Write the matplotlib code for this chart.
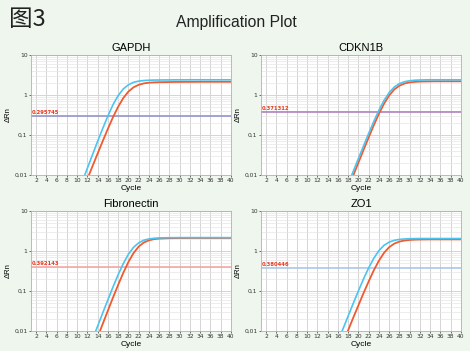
import numpy as np
import matplotlib.pyplot as plt
from matplotlib.ticker import FixedLocator, FixedFormatter, LogLocator, NullFormatter

# cycles 10..40 for all curves
cycles = list(range(10, 41))

gapdh_blue = [0.0031, 0.0068, 0.0149, 0.0323, 0.070, 0.147, 0.302, 0.575, 0.97, 1.42,
              1.80, 2.08, 2.22, 2.30, 2.34, 2.36, 2.37, 2.38, 2.38, 2.39, 2.39, 2.39,
              2.40, 2.40, 2.40, 2.40, 2.40, 2.40, 2.40, 2.40, 2.40]
gapdh_red = [0.0017, 0.0038, 0.0080, 0.0167, 0.0346, 0.071, 0.144, 0.281, 0.51, 0.84,
             1.22, 1.56, 1.80, 1.95, 2.03, 2.07, 2.09, 2.10, 2.11, 2.12, 2.12, 2.13,
             2.13, 2.13, 2.14, 2.14, 2.14, 2.14, 2.14, 2.14, 2.14]
cdkn_blue = [0.00001, 0.00003, 0.00006, 0.00013, 0.0003, 0.0006, 0.0013,
             0.0028, 0.0060, 0.0125, 0.0259, 0.0536, 0.110, 0.219, 0.418, 0.736, 1.155,
             1.586, 1.93, 2.15, 2.27, 2.34, 2.37, 2.39,
             2.40, 2.40, 2.40, 2.40, 2.40, 2.40, 2.40]
cdkn_red = [0.00001, 0.00002, 0.00005, 0.0001, 0.0002, 0.0005, 0.0010,
            0.0022, 0.0047, 0.0098, 0.0204, 0.0424, 0.087, 0.176, 0.340, 0.609, 0.978,
            1.38, 1.71, 1.94, 2.07, 2.13, 2.17, 2.18,
            2.19, 2.20, 2.20, 2.20, 2.20, 2.20, 2.20]
fibro_blue = [0.0006, 0.0013, 0.0029, 0.0062, 0.0133, 0.0285, 0.0606, 0.127, 0.256, 0.486,
              0.833, 1.24, 1.60, 1.86, 2.00, 2.08, 2.12, 2.14, 2.15, 2.15, 2.16, 2.16,
              2.16, 2.16, 2.16, 2.16, 2.16, 2.16, 2.16, 2.16, 2.16]
fibro_red = [0.0003, 0.0007, 0.0015, 0.0033, 0.0071, 0.0152, 0.0326, 0.069, 0.143, 0.285,
             0.533, 0.89, 1.29, 1.63, 1.85, 1.98, 2.04, 2.07, 2.09, 2.10, 2.11, 2.11,
             2.12, 2.12, 2.12, 2.12, 2.12, 2.12, 2.12, 2.12, 2.12]
zo1_blue = [0.0001, 0.0002, 0.0004, 0.0008, 0.0014, 0.0026, 0.0055, 0.0114, 0.0238, 0.0495,
            0.101, 0.201, 0.380, 0.661, 1.025, 1.39, 1.67, 1.85, 1.95, 2.00, 2.03,
            2.04, 2.05, 2.05, 2.05, 2.05, 2.05, 2.05, 2.05, 2.05, 2.05]
zo1_red = [0.00002, 0.00005, 0.0001, 0.0002, 0.0005, 0.0011,
           0.0025, 0.0051, 0.0105, 0.0217, 0.0439, 0.089, 0.174, 0.330, 0.575, 0.904,
           1.25, 1.53, 1.72, 1.83, 1.89, 1.92, 1.935, 1.943,
           1.95, 1.95, 1.95, 1.95, 1.95, 1.95, 1.95]

titles = ["GAPDH", "CDKN1B", "Fibronectin", "ZO1"]
thresholds = [0.295745, 0.371312, 0.392143, 0.380446]
thr_labels = ["0.295745", "0.371312", "0.392143", "0.380446"]
thr_colors = ["#8c8cc8", "#a878b8", "#f4a0a0", "#a8c4e8"]
blue_series = [gapdh_blue, cdkn_blue, fibro_blue, zo1_blue]
red_series = [gapdh_red, cdkn_red, fibro_red, zo1_red]

bg = "#eef6ee"
W, H = 470, 351
fig = plt.figure(figsize=(4.7, 3.51), dpi=100, facecolor=bg)

# axes boxes in pixels: left, top
boxes = [(31, 55), (261, 55), (31, 211), (261, 211)]
aw, ah = 200, 120

for i, (x0, y0) in enumerate(boxes):
    ax = fig.add_axes([x0 / W, 1 - (y0 + ah) / H, aw / W, ah / H])
    ax.set_facecolor("white")
    ax.set_yscale("log")
    ax.set_xlim(1, 40)
    ax.set_ylim(0.01, 10)

    ax.xaxis.set_major_locator(FixedLocator(range(2, 41, 2)))
    ax.xaxis.set_minor_locator(FixedLocator(range(1, 41)))
    ax.yaxis.set_major_locator(FixedLocator([0.01, 0.1, 1, 10]))
    ax.yaxis.set_major_formatter(FixedFormatter(["0,01", "0,1", "1", "10"]))
    ax.yaxis.set_minor_locator(LogLocator(base=10, subs=np.arange(2, 10)))
    ax.yaxis.set_minor_formatter(NullFormatter())

    ax.grid(which="major", color="#d4d4d4", linewidth=0.7)
    ax.grid(which="minor", axis="y", color="#e6e6e6", linewidth=0.5)
    ax.tick_params(axis="both", which="major", labelsize=4.3, length=1.5,
                   width=0.5, pad=1, colors="#333333")
    ax.tick_params(axis="both", which="minor", length=0)
    for s in ax.spines.values():
        s.set_color("#b0b0b0")
        s.set_linewidth(0.6)

    ax.axhline(thresholds[i], color=thr_colors[i], linewidth=1.1, zorder=2)
    ax.text(1.2, thresholds[i] * 1.06, thr_labels[i], color="#e83a20",
            fontsize=3.8, fontweight="bold", va="bottom", ha="left")

    ax.plot(cycles, red_series[i], color="#f05a30", linewidth=1.3, zorder=3)
    ax.plot(cycles, blue_series[i], color="#4cc4f0", linewidth=1.2, zorder=3)

    ax.set_title(titles[i], fontsize=8, family="Liberation Sans", pad=3)
    ax.set_xlabel("Cycle", fontsize=6, family="Liberation Sans", labelpad=1)
    ax.set_ylabel("ΔRn", fontsize=5.5, family="Liberation Sans", labelpad=2)

fig.text(176 / W, 1 - 22 / H, "Amplification Plot", fontsize=11.3,
         family="Liberation Sans", va="center", ha="left", color="#222222")
fig.text(9 / W, 1 - 19 / H, "图3", fontsize=17,
         family=["Noto Sans CJK SC", "DejaVu Sans"], va="center", ha="left",
         color="#222222")

fig.savefig("out.png", dpi=100, facecolor=bg)
